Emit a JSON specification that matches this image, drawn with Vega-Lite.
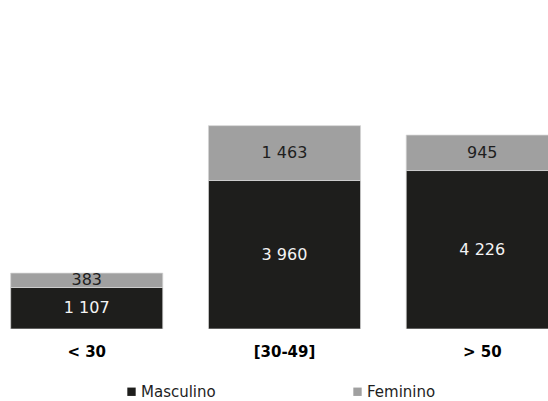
{
  "$schema": "https://vega.github.io/schema/vega-lite/v6.json",
  "width": 548,
  "height": 329,
  "autosize": {"type": "none"},
  "padding": {"left": 0, "top": 0, "right": 0, "bottom": 72},
  "background": "white",
  "config": {
    "view": {"stroke": null},
    "font": "DejaVu Sans",
    "locale": {"number": {"decimal": ",", "thousands": " ", "grouping": [3], "currency": ["", " €"]}}
  },
  "data": {
    "values": [
      {"idade": "< 30", "sexo": "Masculino", "valor": 1107},
      {"idade": "< 30", "sexo": "Feminino", "valor": 383},
      {"idade": "[30-49]", "sexo": "Masculino", "valor": 3960},
      {"idade": "[30-49]", "sexo": "Feminino", "valor": 1463},
      {"idade": "> 50", "sexo": "Masculino", "valor": 4226},
      {"idade": "> 50", "sexo": "Feminino", "valor": 945}
    ]
  },
  "encoding": {
    "x": {
      "field": "idade",
      "type": "nominal",
      "sort": ["< 30", "[30-49]", "> 50"],
      "scale": {"range": [0, 569], "paddingInner": 0.231, "paddingOuter": 0.054},
      "axis": {
        "title": null,
        "domain": false,
        "ticks": false,
        "labelAngle": 0,
        "labelFont": "DejaVu Sans",
        "labelFontSize": 15,
        "labelFontWeight": "bold",
        "labelColor": "#000000",
        "labelPadding": 15
      }
    },
    "y": {
      "field": "valor",
      "type": "quantitative",
      "stack": "zero",
      "scale": {"domain": [0, 8773], "nice": false},
      "axis": null
    },
    "order": {"field": "sexo", "sort": "descending"}
  },
  "layer": [
    {
      "mark": {"type": "bar", "clip": true, "stroke": "#d4d4d4", "strokeWidth": 0.75},
      "encoding": {
        "color": {
          "field": "sexo",
          "type": "nominal",
          "scale": {"domain": ["Masculino", "Feminino"], "range": ["#1e1e1c", "#a0a0a0"]},
          "legend": {
            "title": null,
            "orient": "none",
            "direction": "horizontal",
            "legendX": 124,
            "legendY": 384,
            "symbolType": "square",
            "symbolSize": 70,
            "symbolStrokeWidth": 0,
            "labelFont": "DejaVu Sans",
            "labelFontSize": 15,
            "labelColor": "#1e1e1e",
            "labelOffset": 2,
            "gridAlign": "all",
            "columnPadding": 134
          }
        }
      }
    },
    {
      "mark": {"type": "text", "font": "DejaVu Sans", "fontSize": 16, "baseline": "middle", "align": "center"},
      "encoding": {
        "y": {"field": "valor", "type": "quantitative", "stack": "zero", "bandPosition": 0.5},
        "text": {"field": "valor", "type": "quantitative", "format": ",d"},
        "color": {
          "condition": {"test": "datum.sexo == 'Masculino'", "value": "#f4f4f4"},
          "value": "#1e1e1e"
        }
      }
    }
  ]
}
